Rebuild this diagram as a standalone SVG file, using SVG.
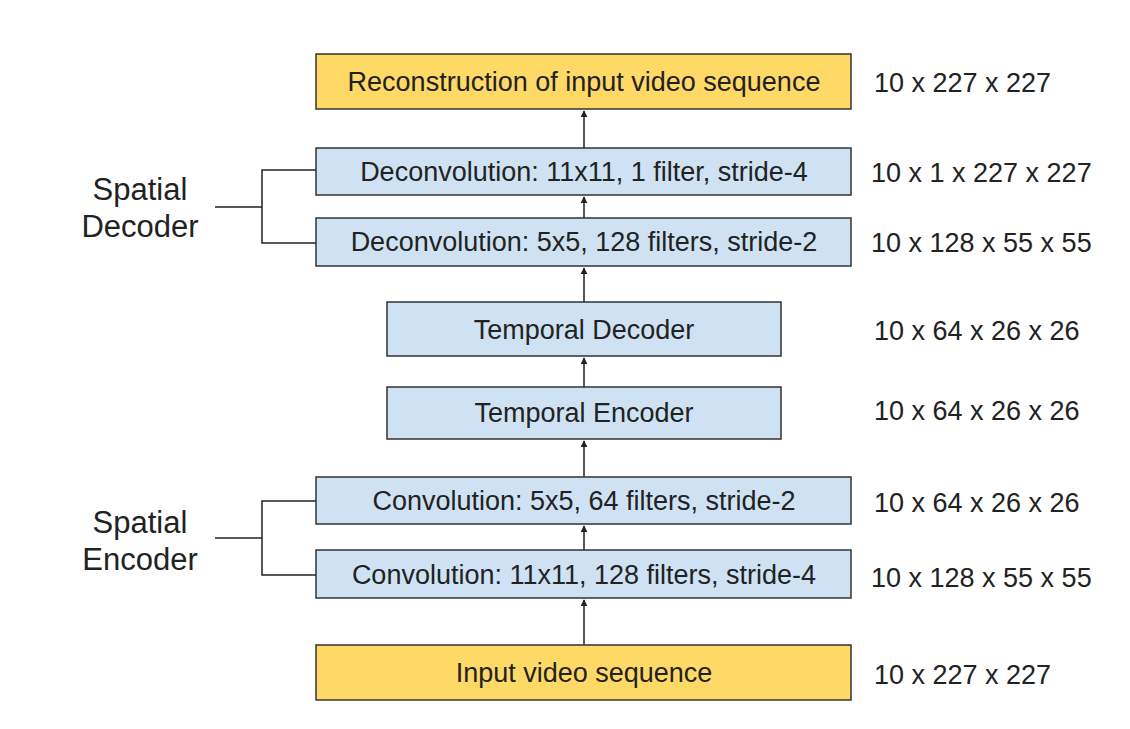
<svg xmlns="http://www.w3.org/2000/svg" width="1130" height="729" viewBox="0 0 1130 729">
<defs>
<marker id="ah" viewBox="0 0 10 10" refX="9" refY="5" markerWidth="7" markerHeight="7" markerUnits="userSpaceOnUse" orient="auto">
<path d="M0,0 L10,5 L0,10 z" fill="#222"/>
</marker>
</defs>
<style>
.box rect{stroke:#333;stroke-width:1.5}
.y rect{fill:#ffd966}
.b rect{fill:#cfe2f3}
text{font-family:"Liberation Sans",Arial,sans-serif;fill:#222}
.t{font-size:27px;text-anchor:middle;dominant-baseline:central}
.d{font-size:27px}
.s{font-size:31px;text-anchor:middle}
.c line,.c path{stroke:#222;stroke-width:1.5;fill:none}
</style>
<rect width="1130" height="729" fill="#fff"/>
<g class="c" id="connectors">
<line x1="584" y1="645" x2="584" y2="600" marker-end="url(#ah)"/>
<line x1="584" y1="550" x2="584" y2="526" marker-end="url(#ah)"/>
<line x1="584" y1="477" x2="584" y2="441" marker-end="url(#ah)"/>
<line x1="584" y1="387" x2="584" y2="358" marker-end="url(#ah)"/>
<line x1="584" y1="302" x2="584" y2="268" marker-end="url(#ah)"/>
<line x1="584" y1="218" x2="584" y2="197" marker-end="url(#ah)"/>
<line x1="584" y1="148" x2="584" y2="111" marker-end="url(#ah)"/>
<path d="M316,170 H262 V243 H316 M262,207 H215"/>
<path d="M316,501 H262 V575 H316 M262,538 H215"/>
</g>
<g id="n_recon" class="box y"><rect x="316" y="54" width="535" height="55"/><text class="t" x="584" y="82">Reconstruction of input video sequence</text></g>
<g id="n_deconv1" class="box b"><rect x="316" y="148" width="535" height="47"/><text class="t" x="584" y="172">Deconvolution: 11x11, 1 filter, stride-4</text></g>
<g id="n_deconv2" class="box b"><rect x="316" y="218" width="535" height="48"/><text class="t" x="584" y="242">Deconvolution: 5x5, 128 filters, stride-2</text></g>
<g id="n_tdec" class="box b"><rect x="387" y="302" width="394" height="54"/><text class="t" x="584" y="330">Temporal Decoder</text></g>
<g id="n_tenc" class="box b"><rect x="387" y="387" width="394" height="52"/><text class="t" x="584" y="413">Temporal Encoder</text></g>
<g id="n_conv2" class="box b"><rect x="316" y="477" width="535" height="47"/><text class="t" x="584" y="501">Convolution: 5x5, 64 filters, stride-2</text></g>
<g id="n_conv1" class="box b"><rect x="316" y="550" width="535" height="48"/><text class="t" x="584" y="575">Convolution: 11x11, 128 filters, stride-4</text></g>
<g id="n_input" class="box y"><rect x="316" y="645" width="535" height="55"/><text class="t" x="584" y="673">Input video sequence</text></g>
<g id="l_sdec"><text class="s" x="140" y="200">Spatial</text><text class="s" x="140" y="237">Decoder</text></g>
<g id="l_senc"><text class="s" x="140" y="533">Spatial</text><text class="s" x="140" y="570">Encoder</text></g>
<g id="dims">
<text class="d" x="874" y="92">10 x 227 x 227</text>
<text class="d" x="871" y="182">10 x 1 x 227 x 227</text>
<text class="d" x="871" y="252">10 x 128 x 55 x 55</text>
<text class="d" x="874" y="340">10 x 64 x 26 x 26</text>
<text class="d" x="874" y="420">10 x 64 x 26 x 26</text>
<text class="d" x="874" y="512">10 x 64 x 26 x 26</text>
<text class="d" x="871" y="587">10 x 128 x 55 x 55</text>
<text class="d" x="874" y="684">10 x 227 x 227</text>
</g>
</svg>
